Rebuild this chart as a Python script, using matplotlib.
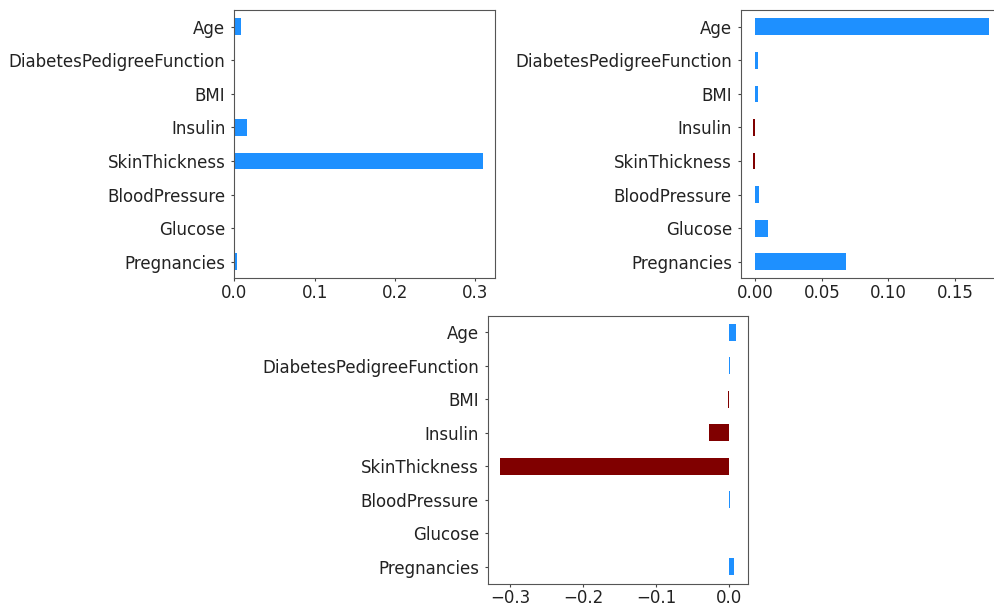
import matplotlib
matplotlib.use("Agg")
import matplotlib.pyplot as plt
import numpy as np

features = ["Pregnancies", "Glucose", "BloodPressure", "SkinThickness",
            "Insulin", "BMI", "DiabetesPedigreeFunction", "Age"]

coef_a = [0.0025, 0.0, 0.0, 0.309, 0.016, 0.0006, 0.0, 0.0084]
coef_b = [0.0685, 0.0097, 0.0028, -0.0018, -0.0018, 0.002, 0.002, 0.1753]
coef_c = [0.0073, 0.0, 0.0011, -0.314, -0.027, -0.0015, 0.0011, 0.0100]

POS = "#1E90FF"
NEG = "#800000"

W, H = 995, 608
fig = plt.figure(figsize=(W / 100, H / 100), dpi=100)

def ax_at(l, r, t, b):
    return fig.add_axes([l / W, 1 - b / H, (r - l) / W, (b - t) / H])

axes = [ax_at(234.5, 495, 10, 278.5),
        ax_at(741, 1000.5, 10, 278.5),
        ax_at(488, 748.3, 315.5, 583.5)]

for ax, vals in zip(axes, [coef_a, coef_b, coef_c]):
    vals = np.array(vals)
    colors = [POS if v >= 0 else NEG for v in vals]
    y = np.arange(len(features))
    ax.barh(y, vals, height=0.5, color=colors)
    ax.set_yticks(y)
    ax.set_yticklabels(features)
    ax.set_ylim(-0.5, len(features) - 0.5)
    ax.tick_params(labelsize=12, colors="#222222", color="#444444")
    ax.tick_params(axis="y", length=2.5, pad=4)
    ax.tick_params(axis="x", length=2.5, pad=1.5)
    for s in ax.spines.values():
        s.set_color("#555555")

axes[1].set_xticks([0.0, 0.05, 0.10, 0.15])
axes[1].set_xticklabels(["0.00", "0.05", "0.10", "0.15"])

fig.savefig("out.png", dpi=100)
